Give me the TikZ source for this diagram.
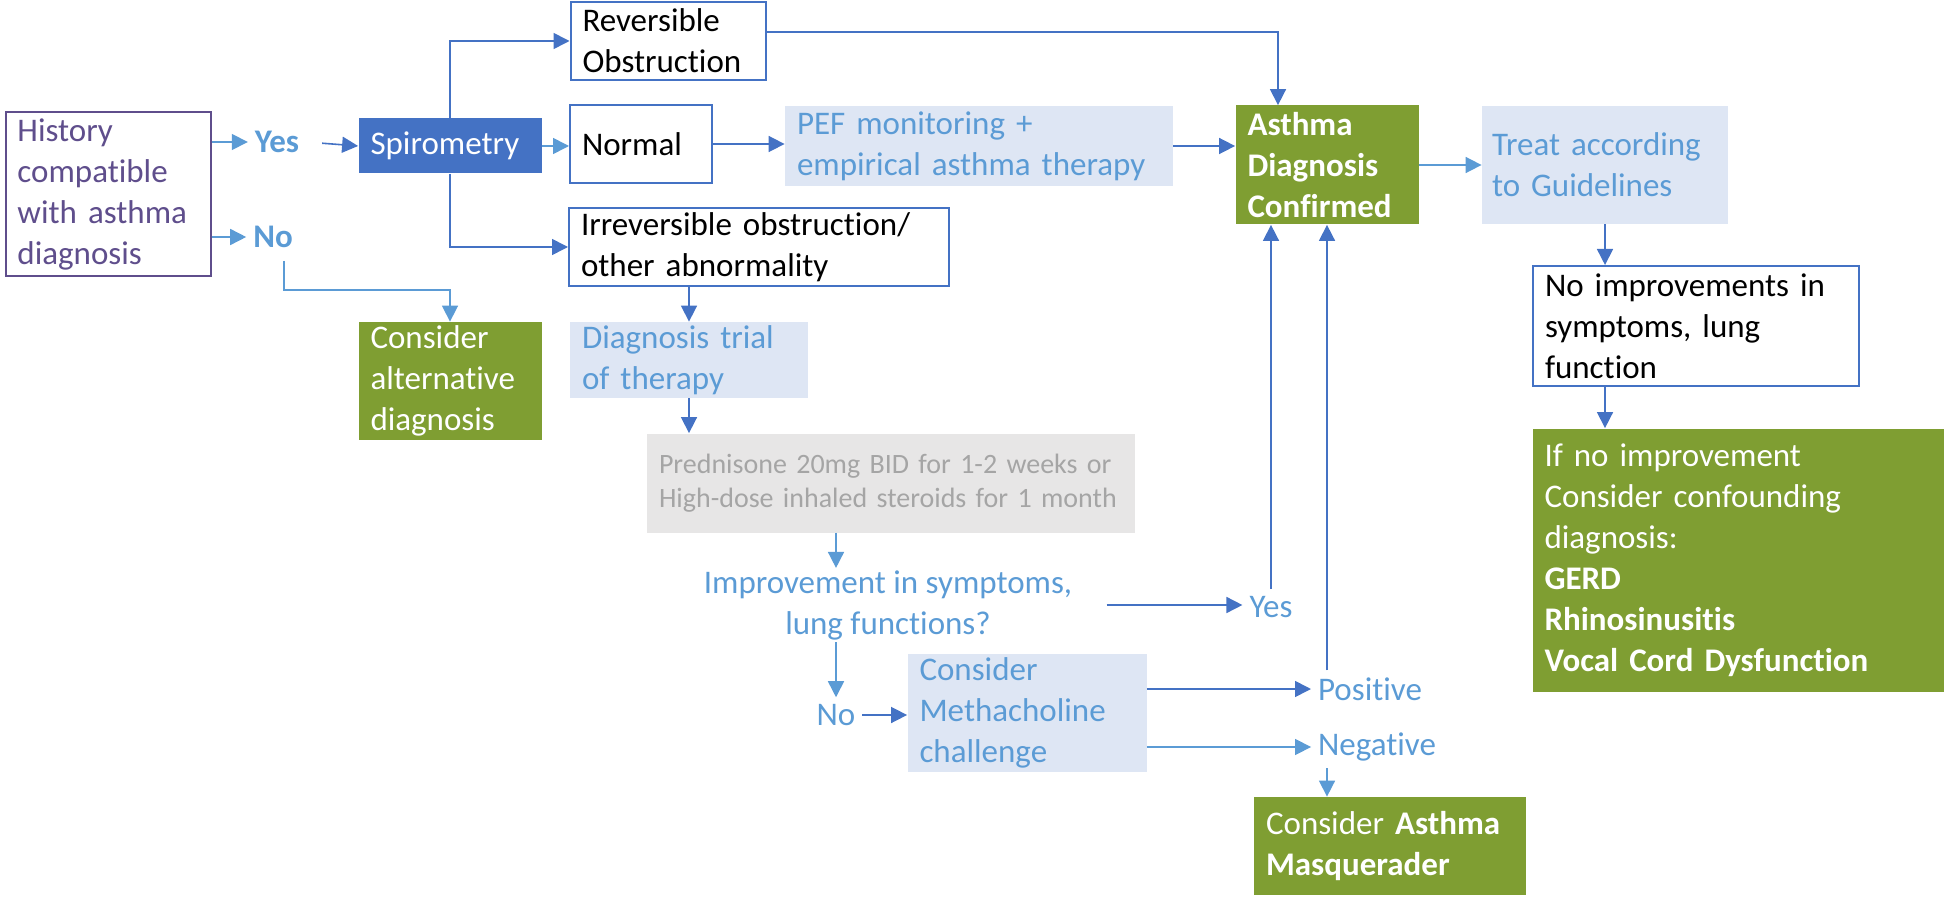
\documentclass[tikz,border=0pt]{standalone}
\usepackage{fontspec}
\setmainfont{Carlito}[Ligatures=NoCommon]
\usepackage{tikz}
\usetikzlibrary{positioning, arrows.meta}

\definecolor{darkblue}{HTML}{4472C4}
\definecolor{lightblue}{HTML}{5B9BD5}
\definecolor{paleblue}{HTML}{DEE6F4}
\definecolor{leafgreen}{RGB}{127,158,50}
\definecolor{greyfill}{HTML}{E7E6E6}
\definecolor{greytext}{HTML}{A5A5A5}
\definecolor{histpurple}{HTML}{5F4E8C}

\tikzset{
  box/.style={rectangle, inner xsep=6pt, inner ysep=0pt, align=left},
  outline/.style={box, draw=darkblue, line width=1pt, fill=white},
  greenbox/.style={box, fill=leafgreen, text=white},
  palebox/.style={box, fill=paleblue, text=lightblue},
  answer/.style={text=lightblue},
  arr/.style={-{Triangle[length=8pt,width=8pt]}, line width=0.8pt, draw=darkblue},
  arrlight/.style={arr, draw=lightblue}
}

\begin{document}
\begin{tikzpicture}[x=0.5pt, y=-0.5pt, font=\fontsize{16.5pt}{20.5pt}\selectfont]
  \useasboundingbox (0,0) rectangle (1946,898);

  % left column
  \node[outline, draw=histpurple, text=histpurple, text width=90.5pt, minimum height=82pt] (history) at (108,194)
        {History\\compatible\\with asthma\\diagnosis};
  \node[answer, font=\fontsize{16.5pt}{20.5pt}\selectfont\bfseries] (yesA) at (277,142) {Yes};
  \node[answer, font=\fontsize{16.5pt}{20.5pt}\selectfont\bfseries] (noA) at (273,237) {No};
  \node[box, fill=darkblue, text=white, text width=79.5pt, minimum height=27.5pt] (spiro) at (450,146) {Spirometry};
  \node[greenbox, text width=79.5pt, minimum height=59pt] (alternative) at (450,381)
        {Consider\\alternative\\diagnosis};

  % spirometry results
  \node[outline, text width=85.5pt, minimum height=39pt] (reversible) at (668,41) {Reversible\\Obstruction};
  \node[outline, text width=59pt, minimum height=39pt] (normal) at (641,144) {Normal};
  \node[outline, text width=178pt, minimum height=39pt] (irreversible) at (759,247)
        {Irreversible obstruction/\\other abnormality};
  \node[palebox, text width=182pt, minimum height=40pt] (pef) at (979,146)
        {PEF monitoring +\\empirical asthma therapy};

  % trial of therapy
  \node[palebox, text width=107pt, minimum height=38pt] (trial) at (689,360) {Diagnosis trial\\of therapy};
  \node[box, fill=greyfill, text=greytext, text width=232pt, minimum height=49.5pt,
        font=\fontsize{14pt}{16.7pt}\selectfont] (steroid) at (891,483)
        {Prednisone 20mg BID for 1-2 weeks or\\High-dose inhaled steroids for 1 month};
  \node[answer, align=center, inner sep=1pt] (improve) at (888,605) {Improvement in symptoms,\\lung functions?};
  \node[answer] (yesB) at (1271,607) {Yes};
  \node[answer] (noB) at (836,715) {No};
  \node[palebox, text width=107.5pt, minimum height=59pt] (methacholine) at (1027,713)
        {Consider\\Methacholine\\challenge};
  \node[answer] (positive) at (1370,689) {Positive};
  \node[answer] (negative) at (1377,747) {Negative};
  \node[greenbox, text width=124pt, minimum height=49pt] (masquerader) at (1390,846)
        {Consider \textbf{Asthma}\\\textbf{Masquerader}};

  % right column
  \node[greenbox, font=\fontsize{16.5pt}{20.5pt}\selectfont\bfseries, text width=79.5pt, minimum height=59.5pt] (confirmed) at (1327,165)
        {Asthma\\Diagnosis\\Confirmed};
  \node[palebox, inner xsep=5pt, text width=113pt, minimum height=59pt] (treat) at (1605,165)
        {Treat according\\to Guidelines};
  \node[outline, text width=151pt, minimum height=60pt] (noimprove) at (1696,326)
        {No improvements in\\symptoms, lung\\function};
  \node[greenbox, text width=193.5pt, minimum height=131.5pt] (confound) at (1738,560)
        {If no improvement\\Consider confounding\\diagnosis:\\\textbf{GERD}\\\textbf{Rhinosinusitis}\\\textbf{Vocal Cord Dysfunction}};

  % connectors
  \draw[arrlight] (history.east |- yesA) -- (yesA.west);
  \draw[arrlight] (history.east |- noA) -- (noA.west);
  \draw[arr, shorten <=8pt] (yesA.east) -- (spiro.west);
  \draw[arr] (spiro.north) |- (reversible.west);
  \draw[arrlight] (spiro.east) -- (spiro.east -| normal.west);
  \draw[arr] (spiro.south) |- (irreversible.west);
  \draw[arrlight] ([xshift=5.5pt, yshift=-3pt]noA.south) -- ++(0,29) -| (alternative.north);

  \draw[arr] ([yshift=4.5pt]reversible.east) -| ([xshift=-24.5pt]confirmed.north);
  \draw[arr] (normal.east) -- (normal.east -| pef.west);
  \draw[arr] (pef.east) -- (pef.east -| confirmed.west);
  \draw[arrlight] (confirmed.east) -- (treat.west);
  \draw[arr] (treat.south) -- (treat.south |- noimprove.north);
  \draw[arr] (noimprove.south -| treat.south) -- (confound.north -| treat.south);

  \draw[arr] (trial.north |- irreversible.south) -- (trial.north);
  \draw[arr] (trial.south) -- (trial.south |- steroid.north);
  \draw[arrlight] (steroid.south -| noB) -- (improve.north -| noB);
  \draw[arr, shorten <=16pt] (improve.east) -- (improve.east -| yesB.west);
  \draw[arr] (yesB.north) -- (yesB.north |- confirmed.south);
  \draw[arrlight] (improve.south -| noB) -- (noB.north);
  \draw[arr] (noB.east) -- (noB.east -| methacholine.west);
  \draw[arr] (methacholine.east |- positive) -- (positive.west);
  \draw[arrlight] (methacholine.east |- negative) -- (negative.west);
  \draw[arr] (confirmed.south |- positive.north) -- (confirmed.south);
  \draw[arrlight] (confirmed.south |- negative.south) -- (confirmed.south |- masquerader.north);
\end{tikzpicture}
\end{document}
